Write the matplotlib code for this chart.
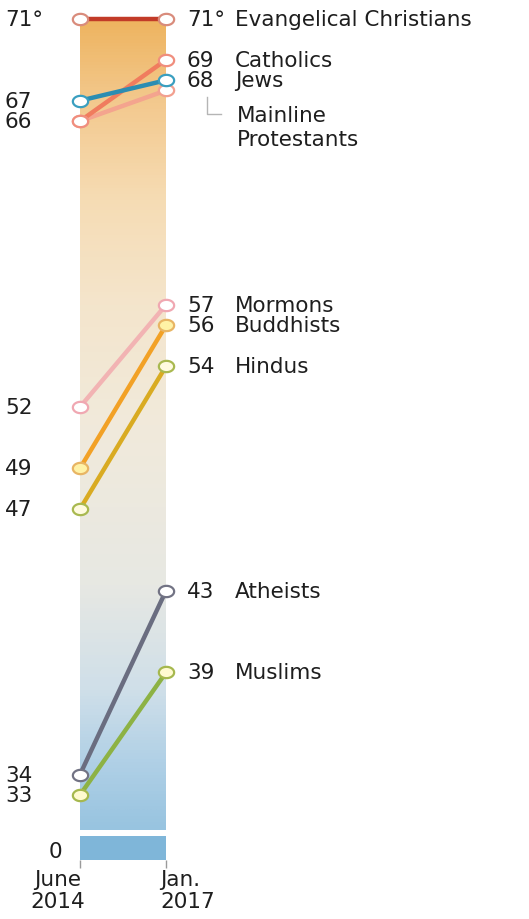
import numpy as np
import matplotlib
matplotlib.use("Agg")
import matplotlib.pyplot as plt
from matplotlib.colors import LinearSegmentedColormap
from matplotlib.path import Path
from matplotlib.lines import Line2D
from matplotlib.transforms import Affine2D

plt.rcParams["font.family"] = ["DejaVu Sans"]

# Feeling-thermometer ratings (0-100) of religious groups
groups = ["Evangelical Christians", "Catholics", "Mainline Protestants", "Jews",
          "Mormons", "Buddhists", "Hindus", "Atheists", "Muslims"]
rating_2014 = [71, 66, 66, 67, 52, 49, 47, 34, 33]
rating_2017 = [71, 69, 67.5, 68, 57, 56, 54, 43, 39]
period_labels = ["June\n2014", "Jan.\n2017"]

line_colors = ["#c23b28", "#f07c5e", "#f4a48e", "#2b8db2", "#f2b3b3",
               "#f2a126", "#d9ab22", "#6a6d80", "#8db244"]
edge_colors = ["#d98c7c", "#f08e7e", "#f2a090", "#3a9fc0", "#f0a8b2",
               "#e8b564", "#a9b950", "#727384", "#a6b84e"]
face_colors = ["white", "white", "white", "white", "white",
               "#fff2a6", "#fffbe0", "white", "#fffad0"]

TEXT = "#1e1e1e"
FS = 15.5
W, H = 529, 920
PX_PER_DEG = 20.42
TOP_VAL = 71 + 20 / PX_PER_DEG          # value at the top edge of the figure
BOTTOM_VAL = TOP_VAL - H / PX_PER_DEG
GRAD_FLOOR = 31.3                        # where the scale is broken

fig = plt.figure(figsize=(W / 100, H / 100), dpi=100)

# x: 0 = June 2014, 1 = Jan. 2017 ; map to pixel columns 80 and 166
x_span = W / 86.0
x_lo = -80 / 86.0
ax = fig.add_axes([0, 0, 1, 1])
ax.set_xlim(x_lo, x_lo + x_span)
ax.set_ylim(BOTTOM_VAL, TOP_VAL)
ax.axis("off")

# warm-to-cool thermometer column
cmap = LinearSegmentedColormap.from_list("thermo", [
    (0.00, "#98c4e0"), (0.08, "#b0d0e6"), (0.17, "#cfdfe9"),
    (0.30, "#e7e8e3"), (0.50, "#f1eadb"), (0.65, "#f4e5cc"),
    (0.78, "#f6dcb4"), (0.90, "#f3c98e"), (1.00, "#eeb460")])
grad = np.linspace(0, 1, 256).reshape(-1, 1)
ax.imshow(grad, cmap=cmap, origin="lower", aspect="auto",
          extent=(0, 1, GRAD_FLOOR, 71), zorder=0, interpolation="bicubic")

# elliptical marker
t = np.linspace(0, 2 * np.pi, 60)
ellipse = Path(np.column_stack([1.35 * np.cos(t), np.sin(t)]), closed=True)

draw_order = [2, 1, 3, 0, 4, 6, 5, 8, 7]
for z, i in enumerate(draw_order):
    ax.plot([0, 1], [rating_2014[i], rating_2017[i]], color=line_colors[i],
            lw=3.2, solid_capstyle="butt", zorder=2 + z)
for z, i in enumerate(draw_order):
    ax.plot([0, 1], [rating_2014[i], rating_2017[i]], ls="none",
            marker=ellipse, ms=11, mfc=face_colors[i], mec=edge_colors[i],
            mew=1.6, zorder=20 + z)

# left-hand values (June 2014)
left_vals = sorted(set(rating_2014), reverse=True)
for v in left_vals:
    txt = f"{v}°" if v == max(rating_2014) else f"{v}"
    ax.annotate(txt, xy=(0, v), xytext=(-75, 0), textcoords="offset pixels",
                ha="left", va="center", fontsize=FS, color=TEXT)

# right-hand values and group names (Jan. 2017)
for i, g in enumerate(groups):
    v = rating_2017[i]
    if g == "Mainline Protestants":
        ax.annotate("Mainline\nProtestants", xy=(1, v), xytext=(71, -37),
                    textcoords="offset pixels", ha="left", va="center",
                    fontsize=FS, color=TEXT, linespacing=1.25)
        continue
    num = f"{v:g}°" if i == 0 else f"{v:g}"
    ax.annotate(num, xy=(1, v), xytext=(21, 0), textcoords="offset pixels",
                ha="left", va="center", fontsize=FS, color=TEXT)
    ax.annotate(g, xy=(1, v), xytext=(69, 0), textcoords="offset pixels",
                ha="left", va="center", fontsize=FS, color=TEXT)

# leader line to the Mainline Protestants point
mi = groups.index("Mainline Protestants")
ax_x, ax_y = ax.transData.transform((1, rating_2017[mi]))
leader = Line2D([41, 41, 55], [-7, -24, -24], color="#b5b5b5", lw=1.0,
                transform=Affine2D().translate(ax_x, ax_y))
fig.add_artist(leader)

# broken-axis stub for zero
stub = fig.add_axes([0, (H - 861) / H, 1, 24 / H])
stub.set_xlim(x_lo, x_lo + x_span)
stub.set_ylim(-0.8, 1.0)
stub.fill_between([0, 1], -0.8, 1.0, color="#7fb6d9", lw=0)
for s in stub.spines.values():
    s.set_visible(False)
stub.patch.set_alpha(0)
stub.set_yticks([])
stub.annotate("0", xy=(0, 0), xytext=(-18, -2), textcoords="offset pixels",
              ha="right", va="center", fontsize=FS, color=TEXT)
stub.set_xticks([0, 1])
stub.set_xticklabels([])
stub.tick_params(axis="x", length=6, width=1, color="#9a9a9a")

# period labels under the ticks
stub.annotate(period_labels[0], xy=(0, -0.8), xytext=(5, -9),
              textcoords="offset pixels", ha="right", va="top",
              multialignment="center", fontsize=FS, color=TEXT, linespacing=1.12)
stub.annotate(period_labels[1], xy=(1, -0.8), xytext=(-6, -9),
              textcoords="offset pixels", ha="left", va="top",
              multialignment="left", fontsize=FS, color=TEXT, linespacing=1.12)

fig.savefig("out.png", dpi=100)
